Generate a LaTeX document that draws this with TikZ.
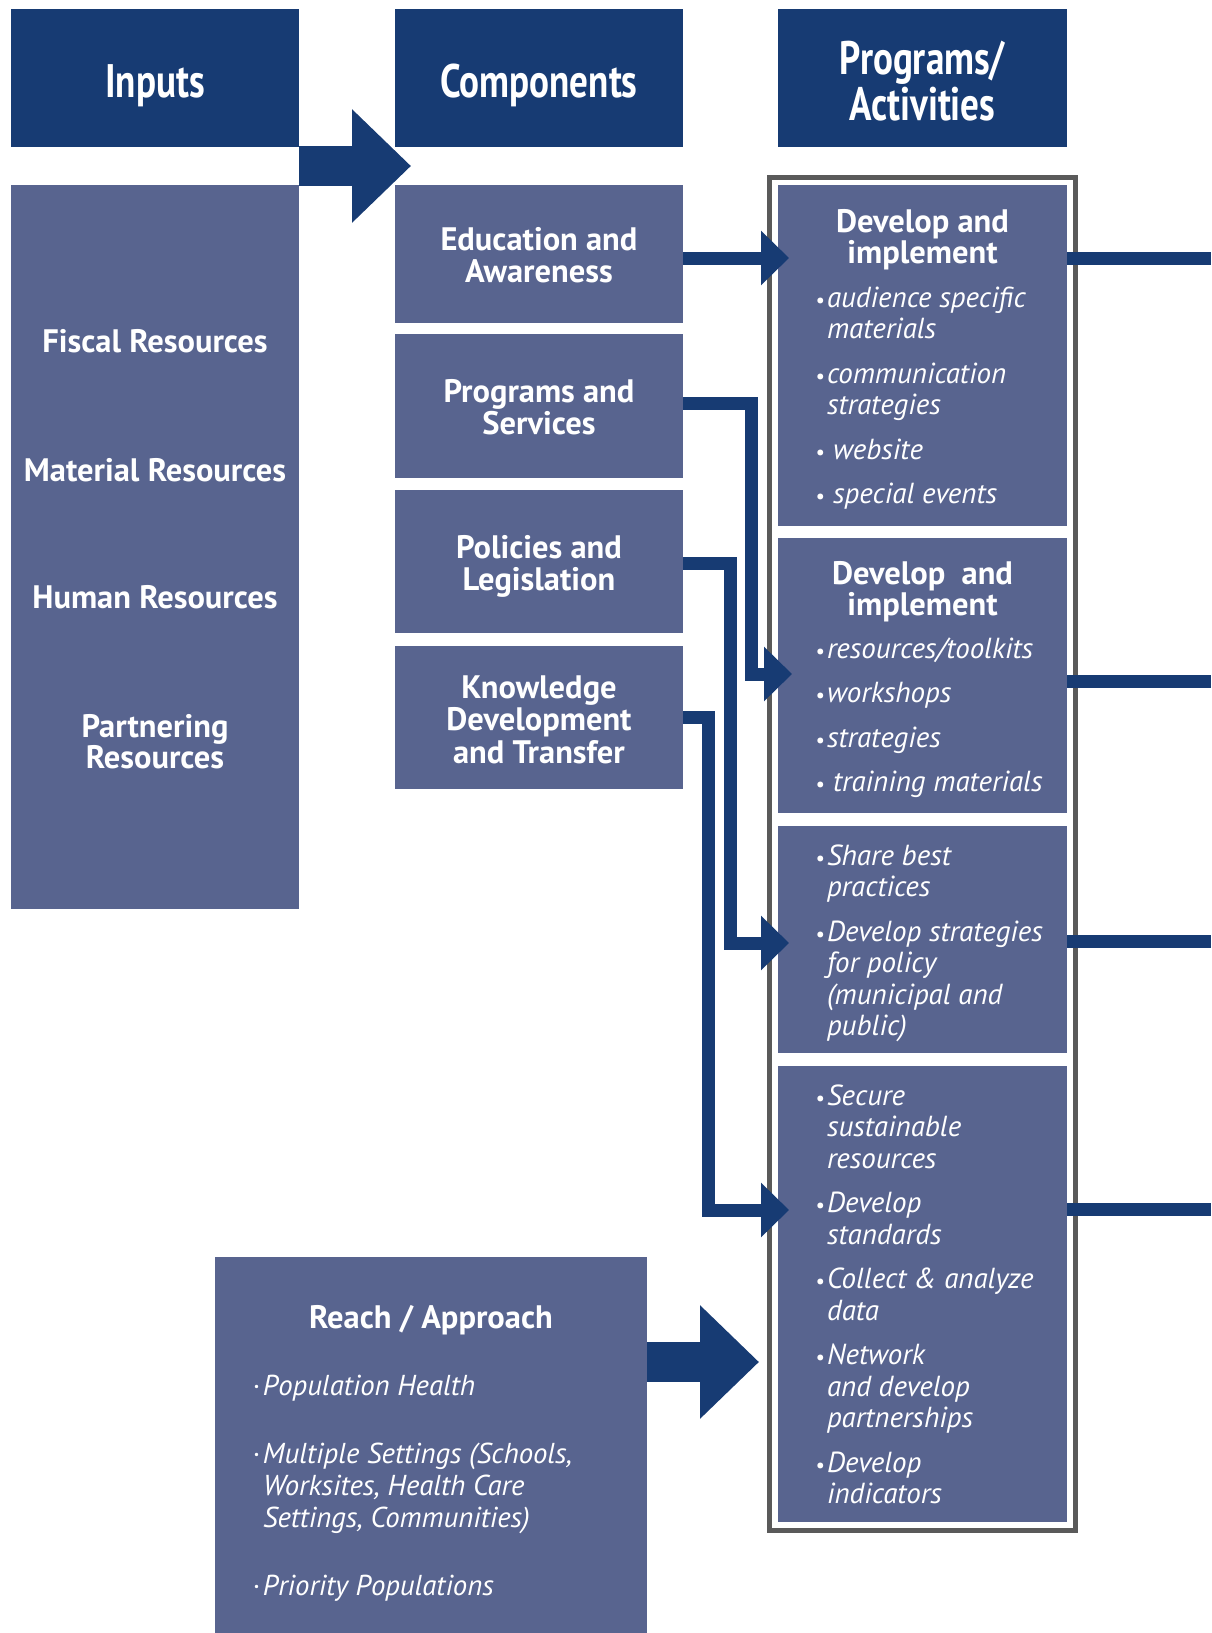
\documentclass[tikz,border=0pt]{standalone}
\usepackage{fontspec}
\setmainfont{PT Sans}
\newfontfamily\condfont[FakeStretch=0.79]{PT Sans}
\usetikzlibrary{arrows.meta,calc}
\definecolor{navy}{RGB}{23,59,115}
\definecolor{boxblue}{RGB}{88,100,143}
\definecolor{framegray}{RGB}{90,90,90}
\newcommand{\mybullet}{{\fontsize{21}{21}\selectfont\textbullet}}
\newcommand{\mybul}{\makebox[11pt][l]{\kern-1pt\mybullet}}
\newcommand{\mybulw}{\makebox[17pt][l]{\kern-1pt\mybullet}}
\newcommand{\myind}{\hspace*{11pt}}
\newcommand{\mydot}{\makebox[11pt][l]{\textperiodcentered}}
\begin{document}
\begin{tikzpicture}[x=1pt,y=-1pt,
  hdrbox/.style={fill=navy, inner sep=0pt, outer sep=0pt, minimum width=288pt, minimum height=138pt},
  blk/.style={fill=boxblue, inner sep=0pt, outer sep=0pt},
  conn/.style={draw=navy, line width=13pt, line join=miter, -{Triangle[length=28pt,width=53pt]}},
  outline/.style={draw=navy, line width=13pt},
  blockarrow/.style={draw=navy, line width=40pt, -{Triangle[length=59pt,width=110pt]}},
  txt/.style={text=white, inner sep=0pt, outer sep=0pt},
  hdrtxt/.style={txt, font=\condfont\bfseries\fontsize{47}{46}\selectfont},
  sbtxt/.style={txt, font=\bfseries\fontsize{32.5}{32.5}\selectfont},
  tttxt/.style={txt, font=\bfseries\fontsize{32.5}{31}\selectfont},
  ittxt/.style={txt, font=\itshape\fontsize{29}{31.5}\selectfont},
  rtxt/.style={txt, font=\itshape\fontsize{28.8}{32}\selectfont}
]
\useasboundingbox (0,0) rectangle (1211,1633);

% headers
\node[hdrbox] (inhead) at (155,78) {};
\node[hdrbox] (comphead) at (539,78) {};
\node[hdrbox, minimum width=289pt] (proghead) at (922.5,78) {};
\node[hdrtxt, anchor=base] (tinputs) at (155,97) {Inputs};
\node[hdrtxt, anchor=base] (tcomp) at (539,97) {Components};
\node[hdrtxt, anchor=base] (tprog) at (922.5,74) {\parbox[t]{289pt}{\centering Programs/\\Activities}};

% inputs body
\node[blk, minimum width=288pt, minimum height=724pt] (inbody) at (155,547) {};
\node[sbtxt, anchor=base] (tfis) at (155,352) {Fiscal Resources};
\node[sbtxt, anchor=base] (tmat) at (155,481) {Material Resources};
\node[sbtxt, anchor=base] (thum) at (155,608) {Human Resources};
\node[tttxt, anchor=base] (tpar) at (155,737) {\parbox[t]{288pt}{\centering Partnering\\Resources}};

% components
\node[blk, minimum width=288pt, minimum height=138pt] (edu) at (539,254) {};
\node[blk, minimum width=288pt, minimum height=144pt] (prog) at (539,406) {};
\node[blk, minimum width=288pt, minimum height=143pt] (pol) at (539,561.5) {};
\node[blk, minimum width=288pt, minimum height=143pt] (know) at (539,717.5) {};
\node[sbtxt, anchor=base] (tedu) at (539,250) {\parbox[t]{288pt}{\centering Education and\\Awareness}};
\node[sbtxt, anchor=base] (tprg) at (539,402) {\parbox[t]{288pt}{\centering Programs and\\Services}};
\node[sbtxt, anchor=base] (tpol) at (539,558) {\parbox[t]{288pt}{\centering Policies and\\Legislation}};
\node[sbtxt, anchor=base] (tknow) at (539,698) {\parbox[t]{288pt}{\centering Knowledge\\Development\\and Transfer}};

% activities
\node[blk, minimum width=289pt, minimum height=341pt] (act1) at (922.5,355.5) {};
\node[blk, minimum width=289pt, minimum height=275pt] (act2) at (922.5,675.5) {};
\node[blk, minimum width=289pt, minimum height=227pt] (act3) at (922.5,939.5) {};
\node[blk, minimum width=289pt, minimum height=456pt] (act4) at (922.5,1294) {};
\draw[draw=framegray, line width=5pt] (769.5,177.5) rectangle (1075.5,1530.5);

\node[tttxt, anchor=base] (ta1) at (922.5,232) {\parbox[t]{289pt}{\centering Develop and\\implement}};
\node[ittxt, anchor=base west] (ia1) at (816,307) {\parbox[t]{300pt}{\raggedright
\mybul audience specific\\
\myind materials\\[13pt]
\mybul communication\\
\myind strategies\\[13pt]
\mybulw website\\[13pt]
\mybulw special events}};

\node[tttxt, anchor=base] (ta2) at (922.5,584) {\parbox[t]{289pt}{\centering Develop\hspace{8pt} and\\implement}};
\node[ittxt, anchor=base west] (ia2) at (816,658) {\parbox[t]{300pt}{\raggedright
\mybul resources/toolkits\\[13pt]
\mybul workshops\\[13pt]
\mybul strategies\\[13pt]
\mybulw training materials}};

\node[ittxt, anchor=base west] (ia3) at (816,865) {\parbox[t]{300pt}{\raggedright
\mybul Share best\\
\myind practices\\[13pt]
\mybul Develop strategies\\
\myind for policy\\
\myind (municipal and\\
\myind public)}};

\node[ittxt, anchor=base west] (ia4) at (816,1105) {\parbox[t]{300pt}{\raggedright
\mybul Secure\\
\myind sustainable\\
\myind resources\\[13pt]
\mybul Develop\\
\myind standards\\[13pt]
\mybul Collect \& analyze\\
\myind data\\[13pt]
\mybul Network\\
\myind and develop\\
\myind partnerships\\[13pt]
\mybul Develop\\
\myind indicators}};

% reach
\node[blk, minimum width=432pt, minimum height=376pt] (reach) at (431,1445) {};
\node[sbtxt, anchor=base] (treach) at (431,1328.5) {Reach / Approach};
\node[rtxt, anchor=base west] (ireach) at (252,1395) {\parbox[t]{380pt}{\raggedright
\mydot Population Health\\[36pt]
\mydot Multiple Settings (Schools,\\
\myind Worksites, Health Care\\
\myind Settings, Communities)\\[36pt]
\mydot Priority Populations}};

% coordinates for connector ends
\coordinate (tip1) at (789,258);
\coordinate (tip2) at (792,674);
\coordinate (tip3) at (789,943);
\coordinate (tip4) at (789,1210);
\coordinate (out1) at (1211,258);
\coordinate (out2) at (1211,681);
\coordinate (out3) at (1211,941);
\coordinate (out4) at (1211,1209);
\coordinate (reachtip) at (759,1362);

% connectors
\draw[conn] (edu.east |- tip1) -- (tip1);
\draw[conn] (prog.east) ++(0,-2.5) -- ++(68,0) |- (tip2);
\draw[conn] (pol.east) ++(0,1.5) -- ++(47,0) |- (tip3);
\draw[conn] (know.east) -- ++(25,0) |- (tip4);

\draw[outline] (act1.east |- out1) -- (out1);
\draw[outline] (act2.east |- out2) -- (out2);
\draw[outline] (act3.east |- out3) -- (out3);
\draw[outline] (act4.east |- out4) -- (out4);

% block arrows
\draw[blockarrow] ($(inhead.south east)!0.5!(inbody.north east)$) -- ++(112,0);
\draw[blockarrow] (reach.east |- reachtip) -- (reachtip);
\end{tikzpicture}
\end{document}
